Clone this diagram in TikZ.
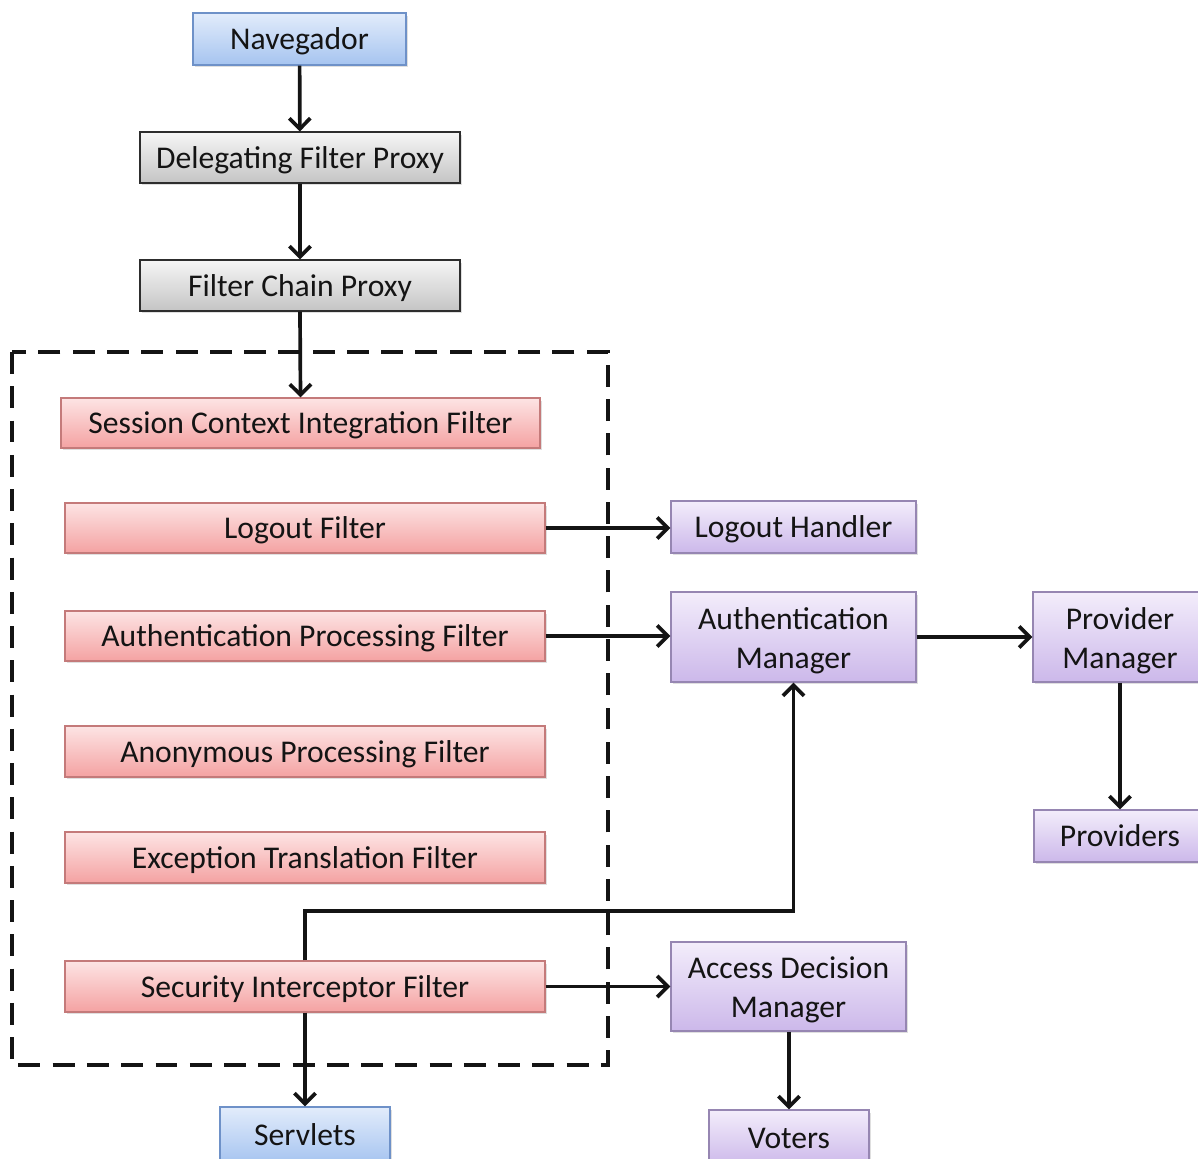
\documentclass[tikz,border=0pt]{standalone}
\usepackage{fontspec}
\setmainfont{Carlito}
\usetikzlibrary{arrows.meta,shadows}

\definecolor{redtop}{RGB}{253,228,228}
\definecolor{redbot}{RGB}{244,162,162}
\definecolor{redline}{RGB}{196,122,122}
\definecolor{purtop}{RGB}{243,237,251}
\definecolor{purbot}{RGB}{204,184,234}
\definecolor{purline}{RGB}{150,134,178}
\definecolor{blutop}{RGB}{226,236,251}
\definecolor{blubot}{RGB}{166,196,240}
\definecolor{bluline}{RGB}{110,145,200}
\definecolor{grytop}{RGB}{246,246,246}
\definecolor{grybot}{RGB}{196,196,196}
\definecolor{gryline}{RGB}{45,45,45}
\definecolor{ink}{RGB}{20,20,20}

\tikzset{
  box/.style={rectangle, draw, line width=0.7pt, inner sep=0pt, align=center,
    text=ink, font=\fontsize{18}{22.2}\selectfont,
    text height=16pt, text depth=3.6pt,
    drop shadow={shadow xshift=0.04cm, shadow yshift=-0.05cm, opacity=0.25}},
  twoline/.style={text height=39pt, text depth=3.6pt},
  redbox/.style={box, draw=redline, top color=redtop, bottom color=redbot},
  purbox/.style={box, draw=purline, top color=purtop, bottom color=purbot},
  blubox/.style={box, draw=bluline, top color=blutop, bottom color=blubot},
  grybox/.style={box, draw=gryline, top color=grytop, bottom color=grybot},
  arr/.style={line width=2.1pt, draw=ink, -{Straight Barb[length=6pt,width=12pt]}},
  group/.style={line width=2.1pt, draw=ink, dash pattern=on 12.5pt off 7pt}
}

\begin{document}
\begin{tikzpicture}[x=0.02cm, y=-0.02cm]
  \useasboundingbox (0,0) rectangle (1198,1159);
  \fill[white] (0,0) rectangle (1198,1159);

  % filter chain group
  \draw[group] (12,352) rectangle (608,1065);

  % entry chain
  \node[blubox, minimum width=4.26cm, minimum height=1.04cm] (nav) at (299.5,39) {Navegador};
  \node[grybox, minimum width=6.4cm, minimum height=1.02cm] (dfp) at (300,157.5) {Delegating Filter Proxy};
  \node[grybox, minimum width=6.4cm, minimum height=1.02cm] (fcp) at (300,285.5) {Filter Chain Proxy};

  % filters
  \node[redbox, minimum width=9.58cm, minimum height=1.0cm] (scif) at (300.5,423) {Session Context Integration Filter};
  \node[redbox, minimum width=9.6cm, minimum height=1.0cm] (lf) at (305,528) {Logout Filter};
  \node[redbox, minimum width=9.6cm, minimum height=1.0cm] (apf) at (305,636) {Authentication Processing Filter};
  \node[redbox, minimum width=9.6cm, minimum height=1.02cm] (anpf) at (305,751.5) {Anonymous Processing Filter};
  \node[redbox, minimum width=9.6cm, minimum height=1.02cm] (etf) at (305,857.5) {Exception Translation Filter};
  \node[redbox, minimum width=9.6cm, minimum height=1.02cm] (sif) at (305,986.5) {Security Interceptor Filter};

  % targets
  \node[blubox, minimum width=3.4cm, minimum height=1.12cm] (srv) at (305,1135) {Servlets};
  \node[purbox, minimum width=4.9cm, minimum height=1.04cm] (lh) at (793.5,527) {Logout Handler};
  \node[purbox, twoline, minimum width=4.9cm, minimum height=1.8cm] (am) at (793.5,637) {Authentication\\Manager};
  \node[purbox, twoline, minimum width=3.48cm, minimum height=1.8cm] (pm) at (1120,637) {Provider\\Manager};
  \node[purbox, minimum width=3.44cm, minimum height=1.04cm] (prov) at (1120,836) {Providers};
  \node[purbox, twoline, minimum width=4.7cm, minimum height=1.78cm] (adm) at (788.5,986.5) {Access Decision\\Manager};
  \node[purbox, minimum width=3.2cm, minimum height=1.12cm] (vot) at (789,1138) {Voters};

  \coordinate (turn) at (793.5,911);

  % connectors
  \draw[arr] (nav) -- (dfp);
  \draw[arr] (dfp) -- (fcp);
  \draw[arr] (fcp.south) -- (scif.north);
  \draw[arr] (lf.east) -- (lh.west |- lf.east);
  \draw[arr] (apf.east) -- (am.west |- apf.east);
  \draw[arr] (am.east) -- (pm.west);
  \draw[arr] (pm.south) -- (prov.north);
  \draw[arr] (sif.north) |- (turn) -- (am.south);
  \draw[arr] (sif.east) -- (adm.west |- sif.east);
  \draw[arr] (sif.south) -- (srv.north);
  \draw[arr] (adm.south -| vot.north) -- (vot.north);
\end{tikzpicture}
\end{document}
